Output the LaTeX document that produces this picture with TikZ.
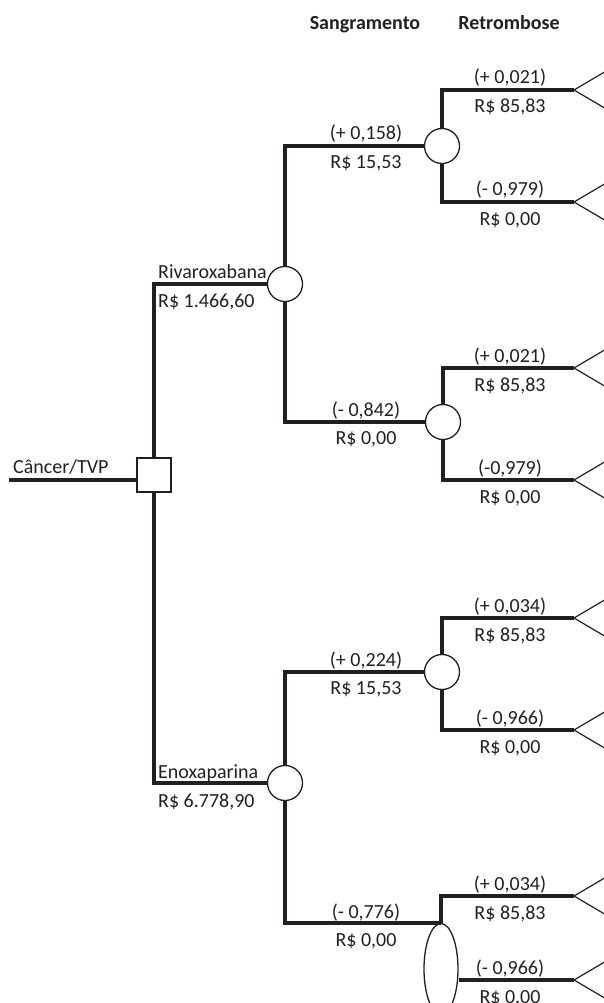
\documentclass[tikz,border=0pt]{standalone}
\usepackage{fontspec}
\setmainfont{Carlito}
\usetikzlibrary{shapes.geometric}
\definecolor{ink}{HTML}{231F20}
\begin{document}
\begin{tikzpicture}[x=1pt, y=-1pt,
  font=\fontsize{20}{24}\selectfont,
  edge/.style={draw=ink, line width=3.4pt},
  chance/.style={circle, draw=ink, line width=1.3pt, fill=white,
                 minimum size=35pt, inner sep=0pt},
  chanceoval/.style={ellipse, draw=ink, line width=1.3pt, fill=white,
                 minimum width=34pt, minimum height=91pt, inner sep=0pt},
  choice/.style={rectangle, draw=ink, line width=1.3pt, fill=white,
                 minimum size=34pt, inner sep=0pt},
  term/.style={draw=ink, line width=1.2pt},
  lbl/.style={anchor=base, inner sep=0pt, text=ink},
  lblw/.style={anchor=base west, inner sep=0pt, text=ink},
  head/.style={anchor=base, inner sep=0pt, text=ink, font=\fontsize{20}{24}\selectfont\bfseries}]
\useasboundingbox (0,0) rectangle (604,1003);
\clip (0,0) rectangle (604,1003);

% column headings
\node[head] (hs) at (365,30) {Sangramento};
\node[head] (hr) at (509,30) {Retrombose};

% decision and chance nodes
\coordinate (start) at (9,480);
\node[choice] (dec) at (154,475) {};
\node[chance] (rc) at (285,284) {};
\node[chance] (ec) at (285,783) {};
\node[chance] (ra) at (442,146) {};
\node[chance] (rb) at (443,422) {};
\node[chance] (ea) at (442,672) {};
\node[chanceoval] (eb) at (441,969) {};

% terminal points of the outcome branches
\coordinate (ra1) at (574,90);
\coordinate (ra2) at (574,202);
\coordinate (rb1) at (574,368);
\coordinate (rb2) at (574,480);
\coordinate (ea1) at (574,618);
\coordinate (ea2) at (574,730);
\coordinate (eb1) at (574,896);
\coordinate (eb2) at (574,980);

% tree branches
\draw[edge] (start) -- (start -| dec.west);
\draw[edge] (dec.north) |- (rc.west);
\draw[edge] (dec.south) |- (ec.west);
\draw[edge] (rc.north) |- (ra.west);
\draw[edge] (rc.south) |- (rb.west);
\draw[edge] (ec.north) |- (ea.west);
\draw[edge] (ec.south) |- (eb.north);
\draw[edge] (ra.north) |- (ra1);
\draw[edge] (ra.south) |- (ra2);
\draw[edge] (rb.north) |- (rb1);
\draw[edge] (rb.south) |- (rb2);
\draw[edge] (ea.north) |- (ea1);
\draw[edge] (ea.south) |- (ea2);
\draw[edge] (eb.north) |- (eb1);
\draw[edge] (eb2 -| eb.east) -- (eb2);

% terminal wedges
\foreach \t in {ra1,ra2,rb1,rb2,ea1,ea2,eb1,eb2}
  \draw[term] (\t) ++(45,-26.5) -- (\t) -- ++(45,26.5);

% strategy labels
\node[lblw] (cancer) at (13,473) {Câncer/TVP};
\node[lblw] (riva) at (158,278) {Rivaroxabana};
\node[lblw] (rivac) at (158,307) {R\$ 1.466,60};
\node[lblw] (enox) at (158,778) {Enoxaparina};
\node[lblw] (enoxc) at (158,807) {R\$ 6.778,90};

% bleeding branch labels
\node[lbl] (rap) at (366,140) {(+ 0,158)};
\node[lbl] (rac) at (366,168) {R\$ 15,53};
\node[lbl] (rbp) at (366,416) {(- 0,842)};
\node[lbl] (rbc) at (366,444) {R\$ 0,00};
\node[lbl] (eap) at (366,666) {(+ 0,224)};
\node[lbl] (eac) at (366,694) {R\$ 15,53};
\node[lbl] (ebp) at (366,918) {(- 0,776)};
\node[lbl] (ebc) at (366,946) {R\$ 0,00};

% rethrombosis branch labels
\node[lbl] (ra1p) at (510,84) {(+ 0,021)};
\node[lbl] (ra1c) at (510,113) {R\$ 85,83};
\node[lbl] (ra2p) at (510,196) {(- 0,979)};
\node[lbl] (ra2c) at (510,225) {R\$ 0,00};
\node[lbl] (rb1p) at (510,362) {(+ 0,021)};
\node[lbl] (rb1c) at (510,391) {R\$ 85,83};
\node[lbl] (rb2p) at (510,474) {(-0,979)};
\node[lbl] (rb2c) at (510,503) {R\$ 0,00};
\node[lbl] (ea1p) at (510,612) {(+ 0,034)};
\node[lbl] (ea1c) at (510,641) {R\$ 85,83};
\node[lbl] (ea2p) at (510,724) {(- 0,966)};
\node[lbl] (ea2c) at (510,753) {R\$ 0,00};
\node[lbl] (eb1p) at (510,890) {(+ 0,034)};
\node[lbl] (eb1c) at (510,919) {R\$ 85,83};
\node[lbl] (eb2p) at (510,974) {(- 0,966)};
\node[lbl] (eb2c) at (510,1003) {R\$ 0.00};
\end{tikzpicture}
\end{document}
